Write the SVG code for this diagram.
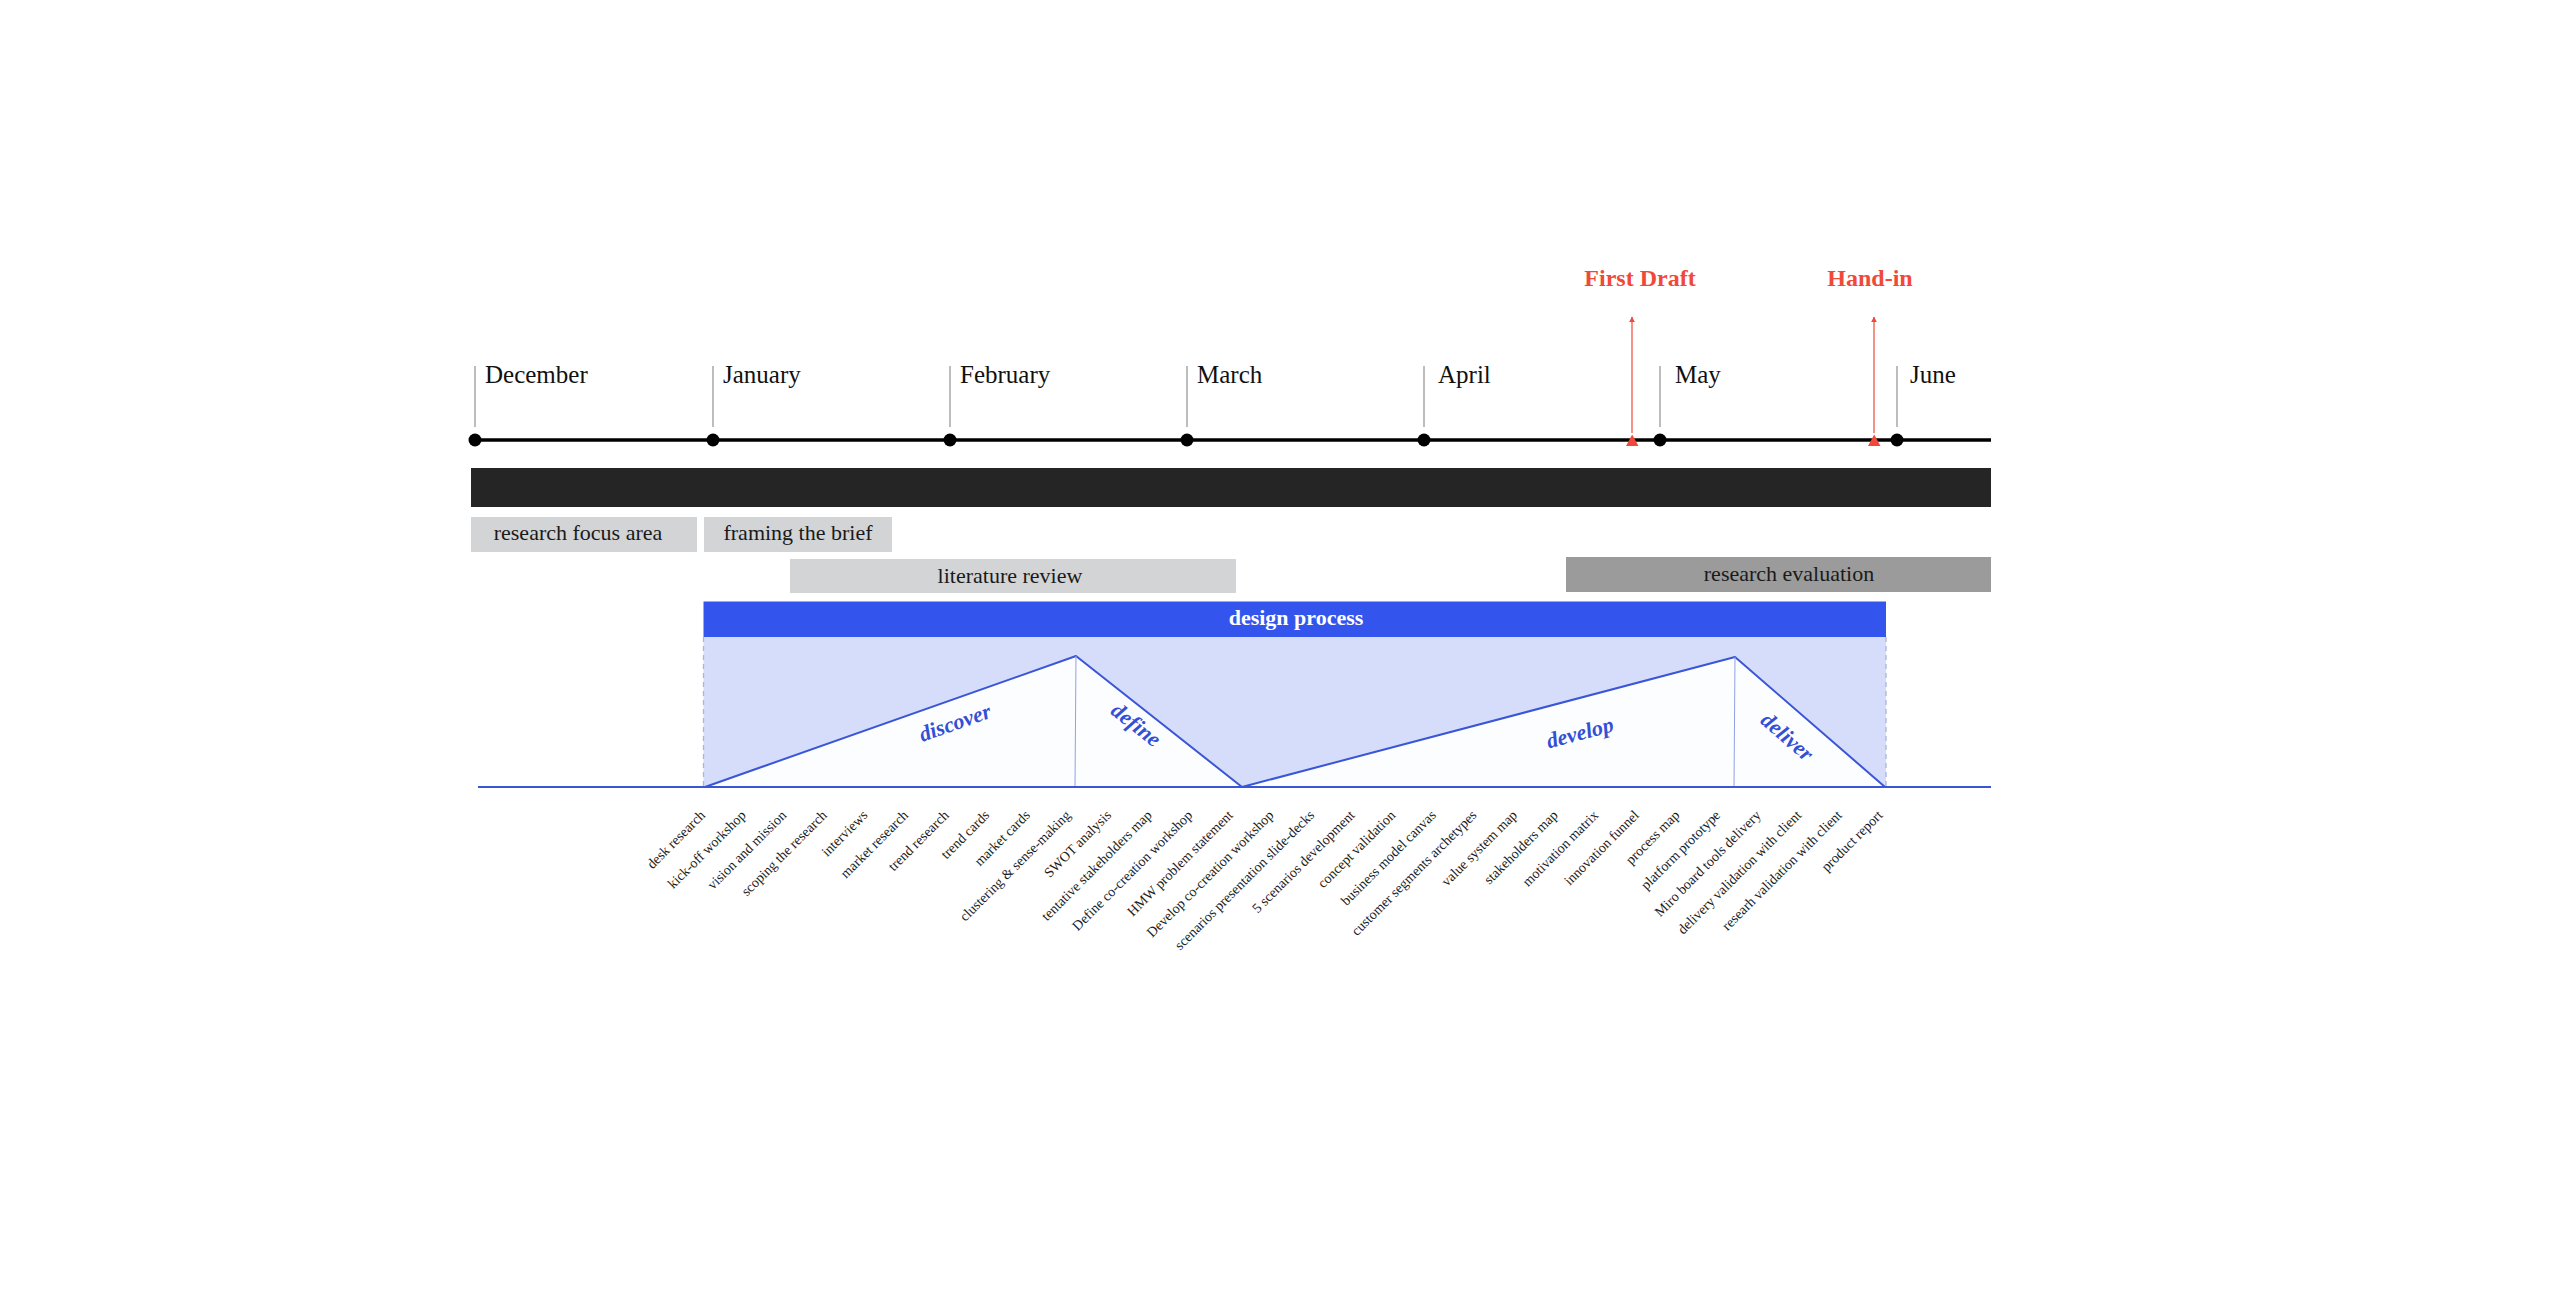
<svg xmlns="http://www.w3.org/2000/svg" width="2560" height="1306" viewBox="0 0 2560 1306">
<defs>
<style>
.month{font-family:"Liberation Serif",serif;font-size:25px;fill:#111}
.tick{stroke:#9a9a9a;stroke-width:1.3}
.dot{fill:#000}
.box{font-family:"Liberation Serif",serif;font-size:22px;fill:#1a1a1a;text-anchor:middle}
.milestone{font-family:"Liberation Serif",serif;font-size:24px;font-weight:bold;fill:#f0493a;text-anchor:middle}
.phase{font-family:"Liberation Serif",serif;font-size:22px;font-weight:bold;font-style:italic;fill:#3350d4;text-anchor:middle}
.act{font-family:"Liberation Serif",serif;font-size:14px;fill:#1a1a1a;text-anchor:end}
.red{stroke:#f0493a;stroke-width:1.2;fill:none}
</style>
<marker id="ah" viewBox="0 0 10 10" refX="9" refY="5" markerWidth="6" markerHeight="6" markerUnits="userSpaceOnUse" orient="auto">
<path d="M0,0 L10,5 L0,10 z" fill="#f0493a"/>
</marker>
</defs>
<rect width="2560" height="1306" fill="#ffffff"/>

<g id="timeline">
<line x1="475" y1="440" x2="1991" y2="440" stroke="#000" stroke-width="3.5"/>
</g>

<g id="months">
<g id="m-december"><line class="tick" x1="475" y1="366" x2="475" y2="427"/><circle class="dot" cx="475" cy="440" r="6.5"/><text class="month" x="485" y="383">December</text></g>
<g id="m-january"><line class="tick" x1="713" y1="366" x2="713" y2="427"/><circle class="dot" cx="713" cy="440" r="6.5"/><text class="month" x="723" y="383">January</text></g>
<g id="m-february"><line class="tick" x1="950" y1="366" x2="950" y2="427"/><circle class="dot" cx="950" cy="440" r="6.5"/><text class="month" x="960" y="383">February</text></g>
<g id="m-march"><line class="tick" x1="1187" y1="366" x2="1187" y2="427"/><circle class="dot" cx="1187" cy="440" r="6.5"/><text class="month" x="1197" y="383">March</text></g>
<g id="m-april"><line class="tick" x1="1424" y1="366" x2="1424" y2="427"/><circle class="dot" cx="1424" cy="440" r="6.5"/><text class="month" x="1438" y="383">April</text></g>
<g id="m-may"><line class="tick" x1="1660" y1="366" x2="1660" y2="427"/><circle class="dot" cx="1660" cy="440" r="6.5"/><text class="month" x="1675" y="383">May</text></g>
<g id="m-june"><line class="tick" x1="1897" y1="366" x2="1897" y2="427"/><circle class="dot" cx="1897" cy="440" r="6.5"/><text class="month" x="1910" y="383">June</text></g>
</g>

<g id="connectors">
<line class="red" x1="1632" y1="433" x2="1632" y2="317" marker-end="url(#ah)"/>
<line class="red" x1="1874" y1="433" x2="1874" y2="317" marker-end="url(#ah)"/>
</g>

<g id="first-draft">
<polygon points="1626,446 1638.5,446 1632.2,434.5" fill="#f0493a"/>
<text class="milestone" x="1640" y="286">First Draft</text>
</g>
<g id="hand-in">
<polygon points="1868,446 1880.5,446 1874.2,434.5" fill="#f0493a"/>
<text class="milestone" x="1870" y="286">Hand-in</text>
</g>

<g id="overall-bar">
<rect x="471" y="468" width="1520" height="39" fill="#252525"/>
</g>

<g id="research-focus-area">
<rect x="471" y="517" width="226" height="35" fill="#d3d4d6"/>
<text class="box" x="578" y="540">research focus area</text>
</g>
<g id="framing-the-brief">
<rect x="704" y="517" width="188" height="35" fill="#d3d4d6"/>
<text class="box" x="798" y="540">framing the brief</text>
</g>
<g id="literature-review">
<rect x="790" y="559" width="446" height="34" fill="#d3d4d6"/>
<text class="box" x="1010" y="583">literature review</text>
</g>
<g id="research-evaluation">
<rect x="1566" y="557" width="425" height="35" fill="#9b9b9b"/>
<text class="box" x="1789" y="581">research evaluation</text>
</g>

<g id="design-process">
<rect x="703.5" y="637" width="1182.5" height="150" fill="#d6ddfa"/>
<line x1="703.5" y1="637" x2="703.5" y2="787" stroke="#aab4e2" stroke-width="1.3" stroke-dasharray="5,4"/>
<line x1="1886" y1="637" x2="1886" y2="787" stroke="#aab4e2" stroke-width="1.3" stroke-dasharray="5,4"/>
<rect x="703.5" y="601.5" width="1182.5" height="35.5" fill="#3355ee"/>
<text x="1296" y="625" font-family="Liberation Serif, serif" font-size="22" font-weight="bold" fill="#ffffff" text-anchor="middle">design process</text>
</g>

<g id="diamond-1">
<polygon points="705,787 1076,656 1242,787" fill="#fcfdff" stroke="#3a55d6" stroke-width="2" stroke-linejoin="round"/>
<line x1="1076" y1="656" x2="1075" y2="787" stroke="#8fa0e6" stroke-width="1"/>
<text class="phase" transform="translate(955,723) rotate(-19.4)" dy="7">discover</text>
<text class="phase" transform="translate(1136,725) rotate(38.3)" dy="7">define</text>
</g>
<g id="diamond-2">
<polygon points="1242,787 1735,657 1885,787" fill="#fcfdff" stroke="#3a55d6" stroke-width="2" stroke-linejoin="round"/>
<line x1="1735" y1="657" x2="1734" y2="787" stroke="#8fa0e6" stroke-width="1"/>
<text class="phase" transform="translate(1580,733) rotate(-14.8)" dy="7">develop</text>
<text class="phase" transform="translate(1787,737) rotate(40.9)" dy="7">deliver</text>
</g>

<g id="baseline">
<line x1="478" y1="787" x2="1991" y2="787" stroke="#3a55d6" stroke-width="2.2"/>
</g>

<g id="activities">
<text class="act" transform="translate(706,816) rotate(-45)">desk research</text>
<text class="act" transform="translate(746.6,816) rotate(-45)">kick-off workshop</text>
<text class="act" transform="translate(787.2,816) rotate(-45)">vision and mission</text>
<text class="act" transform="translate(827.8,816) rotate(-45)">scoping the research</text>
<text class="act" transform="translate(868.4,816) rotate(-45)">interviews</text>
<text class="act" transform="translate(909,816) rotate(-45)">market research</text>
<text class="act" transform="translate(949.6,816) rotate(-45)">trend research</text>
<text class="act" transform="translate(990.2,816) rotate(-45)">trend cards</text>
<text class="act" transform="translate(1030.8,816) rotate(-45)">market cards</text>
<text class="act" transform="translate(1071.4,816) rotate(-45)">clustering &amp; sense-making</text>
<text class="act" transform="translate(1112,816) rotate(-45)">SWOT analysis</text>
<text class="act" transform="translate(1152.6,816) rotate(-45)">tentative stakeholders map</text>
<text class="act" transform="translate(1193.2,816) rotate(-45)">Define co-creation workshop</text>
<text class="act" transform="translate(1233.8,816) rotate(-45)">HMW problem statement</text>
<text class="act" transform="translate(1274.4,816) rotate(-45)">Develop co-creation workshop</text>
<text class="act" transform="translate(1315,816) rotate(-45)">scenarios presentation slide-decks</text>
<text class="act" transform="translate(1355.6,816) rotate(-45)">5 scenarios development</text>
<text class="act" transform="translate(1396.2,816) rotate(-45)">concept validation</text>
<text class="act" transform="translate(1436.8,816) rotate(-45)">business model canvas</text>
<text class="act" transform="translate(1477.4,816) rotate(-45)">customer segments archetypes</text>
<text class="act" transform="translate(1518,816) rotate(-45)">value system map</text>
<text class="act" transform="translate(1558.6,816) rotate(-45)">stakeholders map</text>
<text class="act" transform="translate(1599.2,816) rotate(-45)">motivation matrix</text>
<text class="act" transform="translate(1639.8,816) rotate(-45)">innovation funnel</text>
<text class="act" transform="translate(1680.4,816) rotate(-45)">process map</text>
<text class="act" transform="translate(1721,816) rotate(-45)">platform prototype</text>
<text class="act" transform="translate(1761.6,816) rotate(-45)">Miro board tools delivery</text>
<text class="act" transform="translate(1802.2,816) rotate(-45)">delivery validation with client</text>
<text class="act" transform="translate(1842.8,816) rotate(-45)">researh validation with client</text>
<text class="act" transform="translate(1883.4,816) rotate(-45)">product report</text>
</g>
</svg>
